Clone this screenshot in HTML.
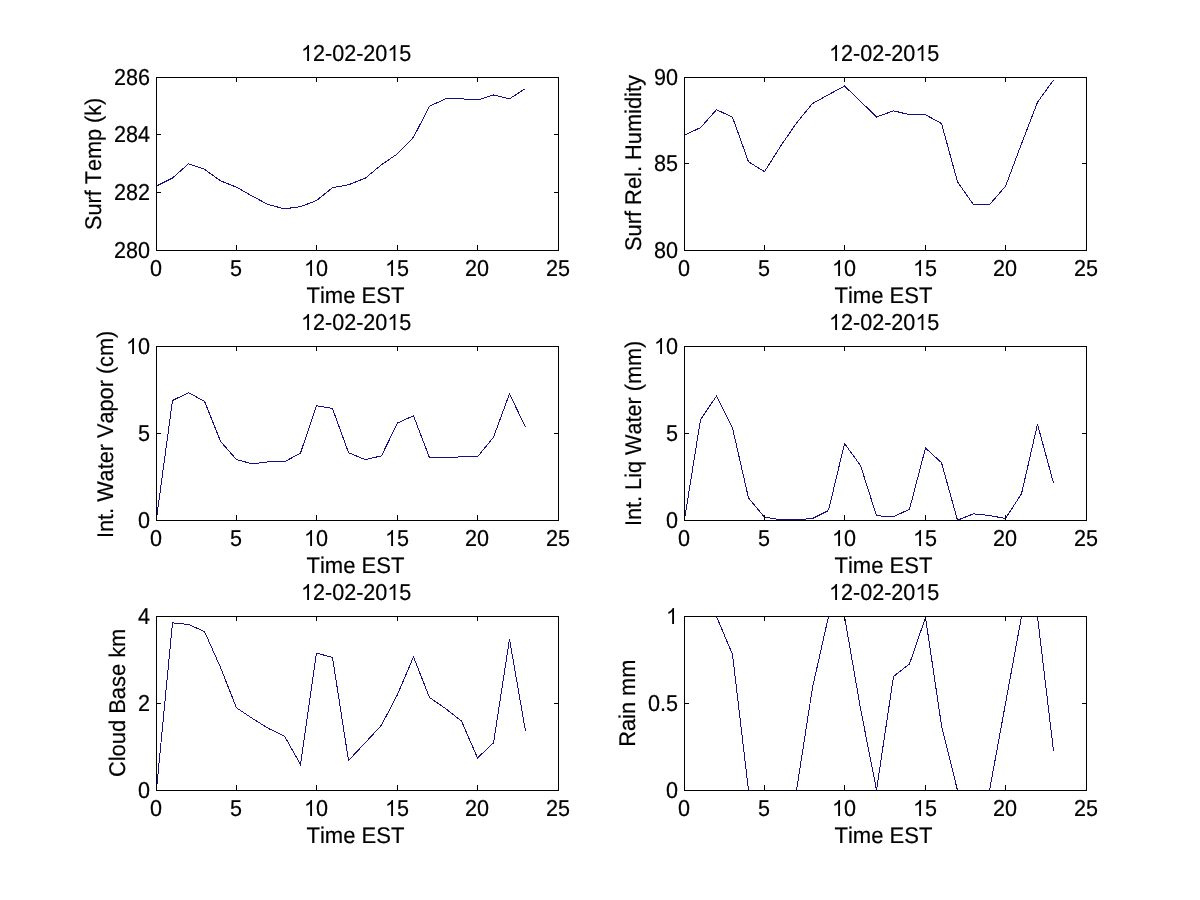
<!DOCTYPE html>
<html lang="en"><head><meta charset="utf-8"><title>12-02-2015</title>
<style>html,body{margin:0;padding:0;background:#fff;}body{width:1200px;height:900px;overflow:hidden;}svg{display:block;}text{font-family:"Liberation Sans",sans-serif;font-size:22.7px;fill:#000;stroke:#000;stroke-width:.2px;font-kerning:none;text-rendering:geometricPrecision;}text.n{font-size:23px;}path{fill:#000;}.ax{fill:none;stroke:#000;stroke-width:1;shape-rendering:crispEdges;}.tk{stroke:#000;stroke-width:1;shape-rendering:crispEdges;}.ln{fill:none;stroke:#16107e;stroke-width:1;shape-rendering:crispEdges;stroke-linejoin:miter;}</style></head><body>
<svg width="1200" height="900" viewBox="0 0 1200 900">
<rect x="0" y="0" width="1200" height="900" fill="#fff"/>
<defs>
<clipPath id="c0"><rect x="156" y="77" width="403" height="174"/></clipPath>
<clipPath id="c1"><rect x="684" y="77" width="403" height="174"/></clipPath>
<clipPath id="c2"><rect x="156" y="346" width="403" height="175"/></clipPath>
<clipPath id="c3"><rect x="684" y="346" width="403" height="175"/></clipPath>
<clipPath id="c4"><rect x="156" y="616" width="403" height="175"/></clipPath>
<clipPath id="c5"><rect x="684" y="616" width="403" height="175"/></clipPath>
</defs>
<g>
<polyline class="ln" clip-path="url(#c0)" points="156.5,186.0 172.5,178.0 188.5,163.8 204.5,169.3 220.5,180.8 236.5,187.2 252.5,196.3 268.5,204.7 284.5,208.8 300.5,206.7 316.5,200.5 332.5,187.7 348.5,184.8 365.5,178.0 381.5,164.7 397.5,153.8 413.5,137.2 429.5,106.3 445.5,98.8 461.5,98.8 477.5,100.0 493.5,95.0 509.5,98.8 525.5,88.5"/>
<rect class="ax" x="156.5" y="77.5" width="402" height="173"/>
<line class="tk" x1="236.5" y1="245" x2="236.5" y2="250"/>
<line class="tk" x1="236.5" y1="78" x2="236.5" y2="82"/>
<line class="tk" x1="316.5" y1="245" x2="316.5" y2="250"/>
<line class="tk" x1="316.5" y1="78" x2="316.5" y2="82"/>
<line class="tk" x1="397.5" y1="245" x2="397.5" y2="250"/>
<line class="tk" x1="397.5" y1="78" x2="397.5" y2="82"/>
<line class="tk" x1="477.5" y1="245" x2="477.5" y2="250"/>
<line class="tk" x1="477.5" y1="78" x2="477.5" y2="82"/>
<line class="tk" x1="157" y1="192.5" x2="161" y2="192.5"/>
<line class="tk" x1="554" y1="192.5" x2="558" y2="192.5"/>
<line class="tk" x1="157" y1="134.5" x2="161" y2="134.5"/>
<line class="tk" x1="554" y1="134.5" x2="558" y2="134.5"/>
</g>
<g>
<polyline class="ln" clip-path="url(#c1)" points="684.5,135.0 700.5,127.7 716.5,109.7 732.5,117.2 748.5,161.8 764.5,171.7 780.5,146.3 796.5,123.0 812.5,103.5 828.5,94.7 844.5,86.0 860.5,101.3 876.5,117.0 893.5,110.8 909.5,114.7 925.5,114.8 941.5,123.5 957.5,181.8 973.5,204.7 989.5,204.7 1005.5,186.3 1021.5,143.8 1037.5,102.2 1053.5,80.0"/>
<rect class="ax" x="684.5" y="77.5" width="402" height="173"/>
<line class="tk" x1="764.5" y1="245" x2="764.5" y2="250"/>
<line class="tk" x1="764.5" y1="78" x2="764.5" y2="82"/>
<line class="tk" x1="844.5" y1="245" x2="844.5" y2="250"/>
<line class="tk" x1="844.5" y1="78" x2="844.5" y2="82"/>
<line class="tk" x1="925.5" y1="245" x2="925.5" y2="250"/>
<line class="tk" x1="925.5" y1="78" x2="925.5" y2="82"/>
<line class="tk" x1="1005.5" y1="245" x2="1005.5" y2="250"/>
<line class="tk" x1="1005.5" y1="78" x2="1005.5" y2="82"/>
<line class="tk" x1="685" y1="163.5" x2="689" y2="163.5"/>
<line class="tk" x1="1082" y1="163.5" x2="1086" y2="163.5"/>
</g>
<g>
<polyline class="ln" clip-path="url(#c2)" points="156.5,518.5 172.5,400.5 188.5,392.7 204.5,401.3 220.5,441.3 236.5,459.7 252.5,463.8 268.5,461.8 284.5,461.8 300.5,453.0 316.5,405.8 332.5,408.5 348.5,452.7 365.5,459.7 381.5,455.8 397.5,423.0 413.5,415.8 429.5,457.7 445.5,457.7 461.5,456.8 477.5,456.8 493.5,437.2 509.5,393.8 525.5,427.2"/>
<rect class="ax" x="156.5" y="346.5" width="402" height="174"/>
<line class="tk" x1="236.5" y1="515" x2="236.5" y2="520"/>
<line class="tk" x1="236.5" y1="347" x2="236.5" y2="351"/>
<line class="tk" x1="316.5" y1="515" x2="316.5" y2="520"/>
<line class="tk" x1="316.5" y1="347" x2="316.5" y2="351"/>
<line class="tk" x1="397.5" y1="515" x2="397.5" y2="520"/>
<line class="tk" x1="397.5" y1="347" x2="397.5" y2="351"/>
<line class="tk" x1="477.5" y1="515" x2="477.5" y2="520"/>
<line class="tk" x1="477.5" y1="347" x2="477.5" y2="351"/>
<line class="tk" x1="157" y1="433.5" x2="161" y2="433.5"/>
<line class="tk" x1="554" y1="433.5" x2="558" y2="433.5"/>
</g>
<g>
<polyline class="ln" clip-path="url(#c3)" points="684.5,519.5 700.5,419.7 716.5,396.0 732.5,428.0 748.5,498.0 764.5,517.2 780.5,519.7 796.5,519.7 812.5,518.5 828.5,510.5 844.5,443.5 860.5,465.5 876.5,515.7 893.5,516.8 909.5,509.2 925.5,448.0 941.5,462.7 957.5,520.2 973.5,513.8 989.5,515.5 1005.5,518.5 1021.5,493.8 1037.5,424.2 1053.5,483.0"/>
<rect class="ax" x="684.5" y="346.5" width="402" height="174"/>
<line class="tk" x1="764.5" y1="515" x2="764.5" y2="520"/>
<line class="tk" x1="764.5" y1="347" x2="764.5" y2="351"/>
<line class="tk" x1="844.5" y1="515" x2="844.5" y2="520"/>
<line class="tk" x1="844.5" y1="347" x2="844.5" y2="351"/>
<line class="tk" x1="925.5" y1="515" x2="925.5" y2="520"/>
<line class="tk" x1="925.5" y1="347" x2="925.5" y2="351"/>
<line class="tk" x1="1005.5" y1="515" x2="1005.5" y2="520"/>
<line class="tk" x1="1005.5" y1="347" x2="1005.5" y2="351"/>
<line class="tk" x1="685" y1="433.5" x2="689" y2="433.5"/>
<line class="tk" x1="1082" y1="433.5" x2="1086" y2="433.5"/>
</g>
<g>
<polyline class="ln" clip-path="url(#c4)" points="156.5,789.5 172.5,622.9 188.5,624.5 204.5,631.5 220.5,667.5 236.5,707.9 252.5,718.5 268.5,728.5 284.5,736.1 300.5,764.5 316.5,653.1 332.5,657.5 348.5,760.5 365.5,742.5 381.5,725.1 397.5,694.5 413.5,656.9 429.5,697.5 445.5,708.5 461.5,721.1 477.5,757.9 493.5,742.9 509.5,639.1 525.5,731.1"/>
<rect class="ax" x="156.5" y="616.5" width="402" height="174"/>
<line class="tk" x1="236.5" y1="785" x2="236.5" y2="790"/>
<line class="tk" x1="236.5" y1="617" x2="236.5" y2="621"/>
<line class="tk" x1="316.5" y1="785" x2="316.5" y2="790"/>
<line class="tk" x1="316.5" y1="617" x2="316.5" y2="621"/>
<line class="tk" x1="397.5" y1="785" x2="397.5" y2="790"/>
<line class="tk" x1="397.5" y1="617" x2="397.5" y2="621"/>
<line class="tk" x1="477.5" y1="785" x2="477.5" y2="790"/>
<line class="tk" x1="477.5" y1="617" x2="477.5" y2="621"/>
<line class="tk" x1="157" y1="703.5" x2="161" y2="703.5"/>
<line class="tk" x1="554" y1="703.5" x2="558" y2="703.5"/>
</g>
<g>
<polyline class="ln" clip-path="url(#c5)" points="684.5,616.5 700.5,616.5 716.5,616.5 732.5,654.5 748.5,790.5 764.5,790.5 780.5,790.5 796.5,790.5 812.5,687.5 828.5,616.5 844.5,616.5 860.5,708.5 876.5,790.0 893.5,676.5 909.5,663.9 925.5,617.5 941.5,725.5 957.5,790.5 973.5,790.5 989.5,790.5 1005.5,703.5 1021.5,616.5 1037.5,616.5 1053.5,750.9"/>
<rect class="ax" x="684.5" y="616.5" width="402" height="174"/>
<line class="tk" x1="764.5" y1="785" x2="764.5" y2="790"/>
<line class="tk" x1="764.5" y1="617" x2="764.5" y2="621"/>
<line class="tk" x1="844.5" y1="785" x2="844.5" y2="790"/>
<line class="tk" x1="844.5" y1="617" x2="844.5" y2="621"/>
<line class="tk" x1="925.5" y1="785" x2="925.5" y2="790"/>
<line class="tk" x1="925.5" y1="617" x2="925.5" y2="621"/>
<line class="tk" x1="1005.5" y1="785" x2="1005.5" y2="790"/>
<line class="tk" x1="1005.5" y1="617" x2="1005.5" y2="621"/>
<line class="tk" x1="685" y1="703.5" x2="689" y2="703.5"/>
<line class="tk" x1="1082" y1="703.5" x2="1086" y2="703.5"/>
</g>
<g style="will-change:transform">
<text class="n" transform="translate(150.00,276.00) scale(0.93812,1)">0</text>
<text class="n" transform="translate(230.00,276.00) scale(0.93812,1)">5</text>
<path d="M763 0H583V1147Q518 1085 412.5 1023T223 930V1104Q373 1174 485 1274T644 1472H763Z" transform="translate(304.00,276.00) scale(0.010536,-0.010870)"/>
<text class="n" transform="translate(316.00,276.00) scale(0.93812,1)">0</text>
<path d="M763 0H583V1147Q518 1085 412.5 1023T223 930V1104Q373 1174 485 1274T644 1472H763Z" transform="translate(385.00,276.00) scale(0.010536,-0.010870)"/>
<text class="n" transform="translate(397.00,276.00) scale(0.93812,1)">5</text>
<text class="n" transform="translate(465.00,276.00) scale(0.93812,1)">20</text>
<text class="n" transform="translate(546.00,276.00) scale(0.93812,1)">25</text>
<text class="n" transform="translate(114.00,258.00) scale(0.93812,1)">280</text>
<text class="n" transform="translate(114.00,200.00) scale(0.93812,1)">282</text>
<text class="n" transform="translate(114.00,142.00) scale(0.93812,1)">284</text>
<text class="n" transform="translate(114.00,85.00) scale(0.93812,1)">286</text>
<path d="M763 0H583V1147Q518 1085 412.5 1023T223 930V1104Q373 1174 485 1274T644 1472H763Z" transform="translate(301.00,61.00) scale(0.010536,-0.010870)"/>
<text class="n" transform="translate(313.00,61.00) scale(0.93812,1)">2-02-20</text>
<path d="M763 0H583V1147Q518 1085 412.5 1023T223 930V1104Q373 1174 485 1274T644 1472H763Z" transform="translate(387.37,61.00) scale(0.010536,-0.010870)"/>
<text class="n" transform="translate(399.37,61.00) scale(0.93812,1)">5</text>
<text transform="translate(306.50,303) scale(0.97129,1)">Time EST</text>
<text transform="translate(101,229.98) rotate(-90) scale(0.95378,1)">Surf Temp (k)</text>
<text class="n" transform="translate(678.00,276.00) scale(0.93812,1)">0</text>
<text class="n" transform="translate(758.00,276.00) scale(0.93812,1)">5</text>
<path d="M763 0H583V1147Q518 1085 412.5 1023T223 930V1104Q373 1174 485 1274T644 1472H763Z" transform="translate(832.00,276.00) scale(0.010536,-0.010870)"/>
<text class="n" transform="translate(844.00,276.00) scale(0.93812,1)">0</text>
<path d="M763 0H583V1147Q518 1085 412.5 1023T223 930V1104Q373 1174 485 1274T644 1472H763Z" transform="translate(913.00,276.00) scale(0.010536,-0.010870)"/>
<text class="n" transform="translate(925.00,276.00) scale(0.93812,1)">5</text>
<text class="n" transform="translate(993.00,276.00) scale(0.93812,1)">20</text>
<text class="n" transform="translate(1074.00,276.00) scale(0.93812,1)">25</text>
<text class="n" transform="translate(654.00,258.00) scale(0.93812,1)">80</text>
<text class="n" transform="translate(654.00,171.00) scale(0.93812,1)">85</text>
<text class="n" transform="translate(654.00,85.00) scale(0.93812,1)">90</text>
<path d="M763 0H583V1147Q518 1085 412.5 1023T223 930V1104Q373 1174 485 1274T644 1472H763Z" transform="translate(829.00,61.00) scale(0.010536,-0.010870)"/>
<text class="n" transform="translate(841.00,61.00) scale(0.93812,1)">2-02-20</text>
<path d="M763 0H583V1147Q518 1085 412.5 1023T223 930V1104Q373 1174 485 1274T644 1472H763Z" transform="translate(915.37,61.00) scale(0.010536,-0.010870)"/>
<text class="n" transform="translate(927.37,61.00) scale(0.93812,1)">5</text>
<text transform="translate(834.50,303) scale(0.97129,1)">Time EST</text>
<text transform="translate(641,250.99) rotate(-90) scale(0.96242,1)">Surf Rel. Humidity</text>
<text class="n" transform="translate(150.00,546.00) scale(0.93812,1)">0</text>
<text class="n" transform="translate(230.00,546.00) scale(0.93812,1)">5</text>
<path d="M763 0H583V1147Q518 1085 412.5 1023T223 930V1104Q373 1174 485 1274T644 1472H763Z" transform="translate(304.00,546.00) scale(0.010536,-0.010870)"/>
<text class="n" transform="translate(316.00,546.00) scale(0.93812,1)">0</text>
<path d="M763 0H583V1147Q518 1085 412.5 1023T223 930V1104Q373 1174 485 1274T644 1472H763Z" transform="translate(385.00,546.00) scale(0.010536,-0.010870)"/>
<text class="n" transform="translate(397.00,546.00) scale(0.93812,1)">5</text>
<text class="n" transform="translate(465.00,546.00) scale(0.93812,1)">20</text>
<text class="n" transform="translate(546.00,546.00) scale(0.93812,1)">25</text>
<text class="n" transform="translate(138.00,528.00) scale(0.93812,1)">0</text>
<text class="n" transform="translate(138.00,441.00) scale(0.93812,1)">5</text>
<path d="M763 0H583V1147Q518 1085 412.5 1023T223 930V1104Q373 1174 485 1274T644 1472H763Z" transform="translate(126.00,354.00) scale(0.010536,-0.010870)"/>
<text class="n" transform="translate(138.00,354.00) scale(0.93812,1)">0</text>
<path d="M763 0H583V1147Q518 1085 412.5 1023T223 930V1104Q373 1174 485 1274T644 1472H763Z" transform="translate(301.00,330.00) scale(0.010536,-0.010870)"/>
<text class="n" transform="translate(313.00,330.00) scale(0.93812,1)">2-02-20</text>
<path d="M763 0H583V1147Q518 1085 412.5 1023T223 930V1104Q373 1174 485 1274T644 1472H763Z" transform="translate(387.37,330.00) scale(0.010536,-0.010870)"/>
<text class="n" transform="translate(399.37,330.00) scale(0.93812,1)">5</text>
<text transform="translate(306.50,573) scale(0.97129,1)">Time EST</text>
<text transform="translate(113,538.00) rotate(-90) scale(0.95570,1)">Int. Water Vapor (cm)</text>
<text class="n" transform="translate(678.00,546.00) scale(0.93812,1)">0</text>
<text class="n" transform="translate(758.00,546.00) scale(0.93812,1)">5</text>
<path d="M763 0H583V1147Q518 1085 412.5 1023T223 930V1104Q373 1174 485 1274T644 1472H763Z" transform="translate(832.00,546.00) scale(0.010536,-0.010870)"/>
<text class="n" transform="translate(844.00,546.00) scale(0.93812,1)">0</text>
<path d="M763 0H583V1147Q518 1085 412.5 1023T223 930V1104Q373 1174 485 1274T644 1472H763Z" transform="translate(913.00,546.00) scale(0.010536,-0.010870)"/>
<text class="n" transform="translate(925.00,546.00) scale(0.93812,1)">5</text>
<text class="n" transform="translate(993.00,546.00) scale(0.93812,1)">20</text>
<text class="n" transform="translate(1074.00,546.00) scale(0.93812,1)">25</text>
<text class="n" transform="translate(666.00,528.00) scale(0.93812,1)">0</text>
<text class="n" transform="translate(666.00,441.00) scale(0.93812,1)">5</text>
<path d="M763 0H583V1147Q518 1085 412.5 1023T223 930V1104Q373 1174 485 1274T644 1472H763Z" transform="translate(654.00,354.00) scale(0.010536,-0.010870)"/>
<text class="n" transform="translate(666.00,354.00) scale(0.93812,1)">0</text>
<path d="M763 0H583V1147Q518 1085 412.5 1023T223 930V1104Q373 1174 485 1274T644 1472H763Z" transform="translate(829.00,330.00) scale(0.010536,-0.010870)"/>
<text class="n" transform="translate(841.00,330.00) scale(0.93812,1)">2-02-20</text>
<path d="M763 0H583V1147Q518 1085 412.5 1023T223 930V1104Q373 1174 485 1274T644 1472H763Z" transform="translate(915.37,330.00) scale(0.010536,-0.010870)"/>
<text class="n" transform="translate(927.37,330.00) scale(0.93812,1)">5</text>
<text transform="translate(834.50,573) scale(0.97129,1)">Time EST</text>
<text transform="translate(641,526.00) rotate(-90) scale(0.95421,1)">Int. Liq Water (mm)</text>
<text class="n" transform="translate(150.00,816.00) scale(0.93812,1)">0</text>
<text class="n" transform="translate(230.00,816.00) scale(0.93812,1)">5</text>
<path d="M763 0H583V1147Q518 1085 412.5 1023T223 930V1104Q373 1174 485 1274T644 1472H763Z" transform="translate(304.00,816.00) scale(0.010536,-0.010870)"/>
<text class="n" transform="translate(316.00,816.00) scale(0.93812,1)">0</text>
<path d="M763 0H583V1147Q518 1085 412.5 1023T223 930V1104Q373 1174 485 1274T644 1472H763Z" transform="translate(385.00,816.00) scale(0.010536,-0.010870)"/>
<text class="n" transform="translate(397.00,816.00) scale(0.93812,1)">5</text>
<text class="n" transform="translate(465.00,816.00) scale(0.93812,1)">20</text>
<text class="n" transform="translate(546.00,816.00) scale(0.93812,1)">25</text>
<text class="n" transform="translate(138.00,798.00) scale(0.93812,1)">0</text>
<text class="n" transform="translate(138.00,711.00) scale(0.93812,1)">2</text>
<text class="n" transform="translate(138.00,624.00) scale(0.93812,1)">4</text>
<path d="M763 0H583V1147Q518 1085 412.5 1023T223 930V1104Q373 1174 485 1274T644 1472H763Z" transform="translate(301.00,600.00) scale(0.010536,-0.010870)"/>
<text class="n" transform="translate(313.00,600.00) scale(0.93812,1)">2-02-20</text>
<path d="M763 0H583V1147Q518 1085 412.5 1023T223 930V1104Q373 1174 485 1274T644 1472H763Z" transform="translate(387.37,600.00) scale(0.010536,-0.010870)"/>
<text class="n" transform="translate(399.37,600.00) scale(0.93812,1)">5</text>
<text transform="translate(306.50,843) scale(0.97129,1)">Time EST</text>
<text transform="translate(125,777.11) rotate(-90) scale(0.96513,1)">Cloud Base km</text>
<text class="n" transform="translate(678.00,816.00) scale(0.93812,1)">0</text>
<text class="n" transform="translate(758.00,816.00) scale(0.93812,1)">5</text>
<path d="M763 0H583V1147Q518 1085 412.5 1023T223 930V1104Q373 1174 485 1274T644 1472H763Z" transform="translate(832.00,816.00) scale(0.010536,-0.010870)"/>
<text class="n" transform="translate(844.00,816.00) scale(0.93812,1)">0</text>
<path d="M763 0H583V1147Q518 1085 412.5 1023T223 930V1104Q373 1174 485 1274T644 1472H763Z" transform="translate(913.00,816.00) scale(0.010536,-0.010870)"/>
<text class="n" transform="translate(925.00,816.00) scale(0.93812,1)">5</text>
<text class="n" transform="translate(993.00,816.00) scale(0.93812,1)">20</text>
<text class="n" transform="translate(1074.00,816.00) scale(0.93812,1)">25</text>
<text class="n" transform="translate(666.00,798.00) scale(0.93812,1)">0</text>
<text class="n" transform="translate(648.01,711.00) scale(0.93812,1)">0.5</text>
<path d="M763 0H583V1147Q518 1085 412.5 1023T223 930V1104Q373 1174 485 1274T644 1472H763Z" transform="translate(666.00,624.00) scale(0.010536,-0.010870)"/>
<path d="M763 0H583V1147Q518 1085 412.5 1023T223 930V1104Q373 1174 485 1274T644 1472H763Z" transform="translate(829.00,600.00) scale(0.010536,-0.010870)"/>
<text class="n" transform="translate(841.00,600.00) scale(0.93812,1)">2-02-20</text>
<path d="M763 0H583V1147Q518 1085 412.5 1023T223 930V1104Q373 1174 485 1274T644 1472H763Z" transform="translate(915.37,600.00) scale(0.010536,-0.010870)"/>
<text class="n" transform="translate(927.37,600.00) scale(0.93812,1)">5</text>
<text transform="translate(834.50,843) scale(0.97129,1)">Time EST</text>
<text transform="translate(635,746.79) rotate(-90) scale(0.96052,1)">Rain mm</text>
</g>
</svg></body></html>
